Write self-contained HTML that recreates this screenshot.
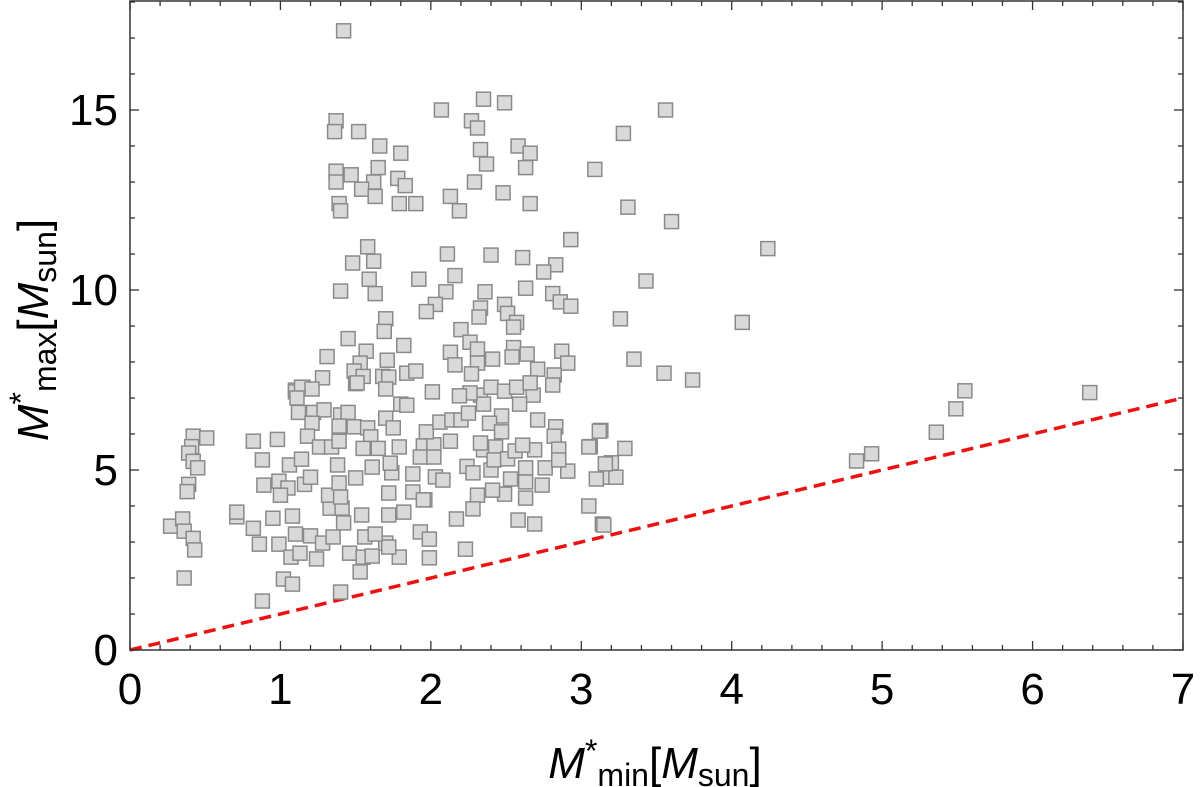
<!DOCTYPE html>
<html><head><meta charset="utf-8"><style>
html,body{margin:0;padding:0;background:#fff;}
svg{display:block;font-family:"Liberation Sans",sans-serif;}
</style></head><body>
<svg id="chart" width="1200" height="787" viewBox="0 0 1200 787" xmlns="http://www.w3.org/2000/svg">
<g id="grid-ticks"></g>
<line id="refline" stroke="#ee1111" stroke-width="3.5" stroke-dasharray="12,7"/>
<g id="points"></g>
<rect x="130" y="1" width="1053" height="649" fill="none" stroke="#333" stroke-width="1.5"/>
<g id="labels" font-size="44" fill="#000"></g>
<text x="655" y="778" text-anchor="middle" font-size="44"><tspan font-style="italic">M</tspan><tspan dy="-16" font-size="32">*</tspan><tspan dy="24" font-size="32">min</tspan><tspan dy="-8">[</tspan><tspan font-style="italic">M</tspan><tspan dy="8" font-size="32">sun</tspan><tspan dy="-8">]</tspan></text>
<text transform="translate(48,330) rotate(-90)" text-anchor="middle" font-size="44"><tspan font-style="italic">M</tspan><tspan dy="-16" font-size="32">*</tspan><tspan dy="24" font-size="32">max</tspan><tspan dy="-8">[</tspan><tspan font-style="italic">M</tspan><tspan dy="8" font-size="32">sun</tspan><tspan dy="-8">]</tspan></text>
</svg>
<script>
const xTicks=[0,1,2,3,4,5,6,7];
const yTicks=[0,5,10,15];
const xs=[1.42,2.35,2.49,2.07,3.56,1.37,1.36,1.52,2.27,2.31,3.28,1.66,1.80,2.33,2.58,2.66,2.37,2.63,1.65,1.37,1.37,1.47,1.62,1.78,1.83,1.54,1.63,3.09,2.29,2.13,2.48,2.19,1.39,1.40,1.79,1.90,2.66,3.31,3.60,2.93,1.58,1.48,1.62,2.11,2.40,2.61,1.59,1.92,2.16,2.83,2.75,3.43,1.40,1.63,2.10,2.36,2.63,2.81,2.86,2.93,2.03,1.97,2.49,2.51,2.33,2.32,2.57,2.55,3.26,1.70,1.69,2.20,1.45,2.26,2.31,1.82,1.57,1.31,2.13,2.55,2.54,2.64,2.87,2.91,2.41,1.71,1.53,2.16,2.31,3.35,2.71,2.82,3.55,3.74,1.28,1.49,1.55,1.50,1.68,1.72,1.84,1.90,2.27,1.15,1.10,
4.07,4.24,4.83,4.93,5.36,5.49,5.55,6.38,3.13,3.06,3.20,3.17,3.23,3.14,3.29,
0.42,0.51,0.41,0.39,0.42,0.45,0.39,0.38,0.27,0.35,0.36,0.42,0.43,0.36,
0.82,0.98,0.88,1.06,1.14,0.89,0.99,1.05,1.00,1.16,1.20,0.71,0.71,0.82,0.95,1.08,0.86,0.99,1.07,1.13,1.10,1.20,1.24,1.28,1.02,1.08,0.88,1.40,1.53,1.46,1.55,1.61,1.79,1.99,2.23,1.42,1.35,1.56,1.70,1.72,1.33,1.41,1.54,1.63,1.72,1.82,1.93,1.99,1.96,2.17,2.58,2.69,3.05,3.15,1.32,1.40,1.39,1.50,1.61,1.74,1.88,1.72,1.88,2.03,2.08,1.95,2.24,2.28,2.31,2.28,2.40,2.53,2.63,2.63,2.76,2.74,2.91,2.49,2.41,2.63,3.05,3.12,3.10,3.16,
1.10,1.14,1.21,1.11,1.12,1.22,1.29,1.21,1.18,1.26,1.34,1.40,1.45,1.39,1.49,1.58,1.70,1.75,1.60,1.39,1.55,1.65,1.79,1.95,2.02,1.93,2.02,1.38,1.73,1.97,2.06,2.14,2.20,2.13,2.25,2.33,2.35,2.40,2.49,2.47,2.39,2.47,2.57,2.68,2.66,2.59,2.71,2.83,2.82,2.85,2.85,2.35,2.43,2.42,2.51,2.56,2.69,2.33,2.61,2.81,2.26,2.01,2.19,1.70,1.80,1.84,1.51];
const ys=[17.2,15.3,15.2,15.0,15.0,14.7,14.4,14.4,14.7,14.5,14.35,14.0,13.8,13.9,14.0,13.8,13.5,13.4,13.4,13.3,13.0,13.2,13.0,13.1,12.9,12.8,12.6,13.35,13.0,12.6,12.7,12.2,12.4,12.2,12.4,12.4,12.4,12.3,11.9,11.4,11.2,10.75,10.8,11.0,10.97,10.9,10.3,10.3,10.4,10.7,10.5,10.25,9.97,9.9,9.95,9.95,10.05,9.9,9.67,9.55,9.6,9.4,9.6,9.35,9.5,9.25,9.1,8.97,9.2,9.2,8.85,8.9,8.65,8.55,8.36,8.46,8.3,8.15,8.27,8.4,8.14,8.22,8.3,7.97,8.08,8.05,7.97,7.92,7.97,8.08,7.8,7.64,7.69,7.5,7.56,7.75,7.6,7.4,7.6,7.58,7.69,7.75,7.67,7.3,7.22,
9.1,11.15,5.25,5.45,6.05,6.7,7.2,7.15,6.1,5.65,5.2,4.8,4.8,3.5,5.6,
5.94,5.89,5.65,5.47,5.24,5.06,4.6,4.4,3.44,3.64,3.3,3.1,2.78,2.0,
5.8,5.85,5.28,5.14,5.3,4.58,4.69,4.5,4.3,4.6,4.8,3.7,3.83,3.38,3.66,3.72,2.94,2.94,2.58,2.69,3.22,3.17,2.53,2.97,1.97,1.83,1.36,1.61,2.17,2.69,2.58,2.61,2.58,2.56,2.8,3.53,3.14,3.14,2.97,2.86,3.94,3.94,3.75,3.22,3.75,3.83,3.28,3.08,4.17,3.64,3.61,3.5,4.0,3.47,4.3,4.25,4.64,4.78,5.08,4.92,4.89,4.36,4.39,4.81,4.72,4.17,5.1,4.92,4.3,3.92,5.0,4.75,4.67,5.06,5.06,4.58,4.97,4.33,4.44,4.22,5.64,6.08,4.75,5.17,
7.17,7.3,7.25,7.0,6.6,6.6,6.67,6.3,5.94,5.64,5.64,6.53,6.6,6.22,6.2,6.17,6.44,6.17,5.92,5.8,5.6,5.6,5.64,5.67,5.7,5.36,5.36,5.14,5.19,6.06,6.33,6.39,6.39,5.8,6.58,7.08,6.83,7.3,7.19,6.5,6.3,6.06,7.3,7.08,7.42,6.83,6.39,6.2,5.94,5.58,5.28,5.56,5.64,5.28,5.31,5.53,5.56,5.75,5.69,7.36,7.14,7.17,7.06,7.25,6.83,6.8,7.42];
const X0=130,X1=1183,Y0=650,Y1=110;
const sx=v=>X0+(X1-X0)*v/7;
const sy=v=>Y0+(Y1-Y0)*v/15;
const NS="http://www.w3.org/2000/svg";
function mk(tag,attrs,parent){const e=document.createElementNS(NS,tag);for(const k in attrs)e.setAttribute(k,attrs[k]);parent.appendChild(e);return e;}
const tg=document.getElementById('grid-ticks'),lg=document.getElementById('labels'),pg=document.getElementById('points');
for(let i=0;i<=35;i++){const v=i/5,x=sx(v),L=(i%5===0)?9:5;
 let t=mk('line',{x1:x,x2:x,y1:650,y2:650-L,stroke:'#333','stroke-width':1.3},tg);
 
 
 t=mk('line',{x1:x,x2:x,y1:1,y2:1+L,stroke:'#333','stroke-width':1.3},tg);
 
 }
for(let v=0;v<=18;v++){const y=sy(v);if(y<1)continue;const L=(v%5===0)?9:5;
 let t=mk('line',{x1:130,x2:130+L,y1:y,y2:y,stroke:'#333','stroke-width':1.3},tg);
 
 
 t=mk('line',{x1:1183,x2:1183-L,y1:y,y2:y,stroke:'#333','stroke-width':1.3},tg);
 
 }
xTicks.forEach(v=>{const t=mk('text',{x:sx(v),y:704,'text-anchor':'middle'},lg);t.textContent=v;
 
 });
yTicks.forEach(v=>{const t=mk('text',{x:118,y:sy(v)+15,'text-anchor':'end'},lg);t.textContent=v;
 
 });
const rl=document.getElementById('refline');
rl.setAttribute('x1',sx(0));rl.setAttribute('y1',sy(0));rl.setAttribute('x2',sx(7));rl.setAttribute('y2',sy(7));
for(let i=0;i<xs.length;i++){
 const p=mk('rect',{x:sx(xs[i])-7,y:sy(ys[i])-7,width:14,height:14,fill:'#d9d9d9',stroke:'#8a8a8a','stroke-width':1.5},pg);
 
 
}
</script>
</body></html>
